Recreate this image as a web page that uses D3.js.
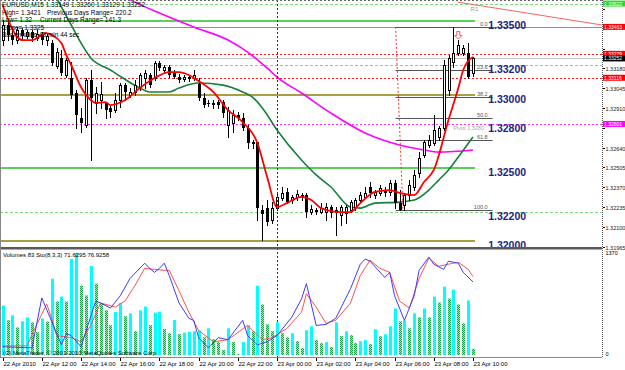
<!DOCTYPE html>
<html><head><meta charset="utf-8">
<script src="https://d3js.org/d3.v7.min.js"></script>
<style>
body{margin:0;background:#fff}
svg{display:block;font-family:"Liberation Sans",Arial,sans-serif}
</style>
</head><body>
<div id="chart"></div>
<script>
// EURUSD M15, 22 Apr 10:00 .. 23 Apr 10:00 (97 bars)
var opens = [1.33373,1.33476,1.33407,1.33373,1.33441,1.33400,1.33428,1.33387,1.33414,1.33373,
1.33353,1.33196,1.33250,1.33135,1.33114,1.33012,1.32841,1.32794,1.33100,1.32944,
1.32964,1.32944,1.32910,1.32896,1.32964,1.33066,1.32998,1.33019,1.33053,1.33114,
1.33135,1.33114,1.33216,1.33169,1.33189,1.33148,1.33121,1.33108,1.33121,1.33114,
1.33073,1.32978,1.32944,1.32937,1.32950,1.32950,1.32794,1.32807,1.32862,1.32841,
1.32773,1.32671,1.32678,1.32214,1.32227,1.32146,1.32227,1.32296,1.32337,1.32282,
1.32303,1.32316,1.32316,1.32200,1.32214,1.32200,1.32200,1.32234,1.32214,1.32180,
1.32193,1.32214,1.32234,1.32282,1.32303,1.32371,1.32316,1.32330,1.32350,1.32337,
1.32398,1.32261,1.32248,1.32316,1.32371,1.32466,1.32589,1.32657,1.32671,1.32712,
1.32773,1.33032,1.33223,1.33285,1.33285,1.33285,1.33149];
var highs = [1.33510,1.33496,1.33455,1.33462,1.33455,1.33441,1.33441,1.33441,1.33428,1.33421,
1.33373,1.33319,1.33305,1.33250,1.33223,1.33032,1.32910,1.33114,1.33169,1.33053,
1.33087,1.32950,1.32923,1.33012,1.33080,1.33080,1.33046,1.33100,1.33148,1.33169,
1.33148,1.33230,1.33230,1.33203,1.33203,1.33169,1.33141,1.33135,1.33135,1.33169,
1.33114,1.33012,1.32964,1.32964,1.32964,1.32964,1.32916,1.32896,1.32882,1.32875,
1.32794,1.32691,1.32678,1.32248,1.32282,1.32268,1.32337,1.32371,1.32364,1.32316,
1.32350,1.32330,1.32330,1.32248,1.32227,1.32261,1.32261,1.32248,1.32234,1.32248,
1.32248,1.32282,1.32296,1.32337,1.32371,1.32405,1.32350,1.32384,1.32371,1.32418,
1.32418,1.32350,1.32330,1.32418,1.32487,1.32609,1.32691,1.32725,1.32862,1.32787,
1.33237,1.33271,1.33463,1.33373,1.33339,1.33353,1.33260];
var lows = [1.33339,1.33373,1.33346,1.33353,1.33373,1.33387,1.33366,1.33373,1.33346,1.33339,
1.33203,1.33182,1.33135,1.33121,1.32978,1.32773,1.32746,1.32780,1.32555,1.32875,
1.32910,1.32841,1.32848,1.32882,1.32916,1.32964,1.32984,1.32998,1.33032,1.33046,
1.33053,1.33100,1.33169,1.33155,1.33121,1.33114,1.33087,1.33094,1.33094,1.33100,
1.32964,1.32916,1.32923,1.32910,1.32910,1.32848,1.32712,1.32746,1.32828,1.32760,
1.32637,1.32637,1.32146,1.32009,1.32112,1.32125,1.32214,1.32282,1.32261,1.32261,
1.32282,1.32282,1.32166,1.32187,1.32187,1.32193,1.32146,1.32166,1.32043,1.32112,
1.32125,1.32200,1.32214,1.32268,1.32296,1.32303,1.32296,1.32316,1.32309,1.32316,
1.32227,1.32214,1.32214,1.32282,1.32350,1.32439,1.32575,1.32643,1.32657,1.32691,
1.32760,1.32998,1.33189,1.33271,1.33271,1.33114,1.33129];
var closes = [1.33476,1.33407,1.33373,1.33441,1.33400,1.33428,1.33387,1.33414,1.33373,1.33400,
1.33216,1.33291,1.33148,1.33237,1.32998,1.32862,1.32807,1.33100,1.32978,1.33012,
1.33005,1.32896,1.32882,1.32964,1.33066,1.33019,1.33019,1.33066,1.33135,1.33148,
1.33066,1.33216,1.33182,1.33189,1.33135,1.33121,1.33100,1.33121,1.33108,1.33135,
1.32978,1.32930,1.32937,1.32944,1.32930,1.32875,1.32896,1.32862,1.32841,1.32773,
1.32671,1.32678,1.32227,1.32187,1.32132,1.32227,1.32303,1.32330,1.32268,1.32303,
1.32323,1.32303,1.32200,1.32220,1.32200,1.32227,1.32234,1.32193,1.32193,1.32234,
1.32234,1.32268,1.32282,1.32316,1.32330,1.32330,1.32337,1.32364,1.32330,1.32398,
1.32261,1.32214,1.32316,1.32384,1.32453,1.32568,1.32678,1.32691,1.32760,1.32773,
1.33203,1.33250,1.33285,1.33339,1.33319,1.33121,1.33252];
var volumes = [665,466,532,372,452,505,439,306,492,450,1024,718,785,718,1290,1370,
931,800,1197,958,700,600,400,580,700,520,560,320,600,650,400,570,580,350,290,470,280,300,310,320,330,
239,359,213,173,67,359,173,13,173,399,319,931,678,412,319,439,293,239,293,186,
93,333,386,200,160,173,106,439,253,319,266,160,186,200,146,346,253,279,386,625,
452,466,359,559,505,625,505,785,705,918,758,878,678,426,732,83];

// moving averages: [bar, price]
var emaRed = [[0,1.33612],[3,1.33394],[4,1.33373],[6,1.33373],[8,1.33407],[9,1.33421],[10,1.33407],
[12,1.33353],[13,1.33271],[14,1.33203],[16,1.33053],[18,1.32964],[19,1.32944],[21,1.32950],[22,1.32930],
[25,1.32964],[28,1.33046],[31,1.33114],[34,1.33155],[36,1.33155],[38,1.33135],[40,1.33094],[43,1.33019],
[46,1.32896],[49,1.32814],[52,1.32671],[54,1.32439],[56,1.32234],[58,1.32261],[61,1.32303],[63,1.32282],
[65,1.32227],[69,1.32200],[71,1.32200],[73,1.32261],[76,1.32337],[79,1.32350],[81,1.32330],[84,1.32316],
[86,1.32405],[88,1.32487],[91,1.32828],[93,1.33046],[94,1.33169],[95,1.33230],[96,1.33257]];
var maGreen = [[11,1.33660],[14,1.33476],[16,1.33353],[18,1.33250],[22,1.33169],[23,1.33148],[28,1.33046],
[30,1.33019],[34,1.33019],[36,1.33046],[40,1.33080],[45,1.33066],[49,1.33019],[51,1.32984],[53,1.32910],
[56,1.32760],[61,1.32555],[64,1.32453],[67,1.32371],[71,1.32234],[73,1.32227],[76,1.32261],[81,1.32268],
[84,1.32282],[87,1.32350],[89,1.32418],[91,1.32487],[93,1.32575],[96,1.32712]];
var maMagenta = [[25,1.33666],[27,1.33632],[32,1.33557],[39,1.33462],[46,1.33373],[50,1.33291],[54,1.33182],
[56,1.33121],[61,1.33012],[67,1.32875],[74,1.32739],[81,1.32657],[86,1.32623],[89,1.32609],[96,1.32623]];

// stochastic (8,3,3): [bar, value]
var stochMain = [[0,8],[6,7],[8,56],[12,10],[13,21],[14,19],[16,8],[19,53],[20,51],[22,46],[24,58],[26,75],
[29,90],[30,85],[31,81],[32,85],[33,90],[34,78],[36,51],[38,36],[39,34],[40,17],[42,7],[44,17],[46,15],
[49,34],[50,19],[52,10],[54,13],[56,19],[59,37],[61,55],[62,70],[64,29],[66,30],[68,36],[71,65],[73,89],
[74,94],[75,92],[78,76],[79,81],[80,58],[82,34],[84,58],[85,83],[87,96],[88,89],[90,84],[91,92],[93,90],
[94,81],[96,71.63]];
var stochSignal = [[0,9],[5,9],[6,20],[9,50],[10,36],[11,19],[14,17],[16,13],[18,29],[20,51],[23,47],[25,53],
[27,68],[29,85],[31,84],[33,83],[34,83],[36,63],[38,42],[40,24],[43,13],[46,15],[50,29],[53,15],[55,17],
[58,26],[61,42],[62,60],[64,47],[66,31],[68,34],[71,51],[73,78],[75,93],[77,85],[79,81],[81,53],[83,46],
[85,75],[87,95],[89,87],[91,89],[93,91],[95,84],[96,76.93]];

var timeTickBars = [0,8,16,24,32,40,48,56,64,72,80,88,96];
var timeTickLabels = ["22 Apr 2010","22 Apr 12:00","22 Apr 14:00","22 Apr 16:00","22 Apr 18:00","22 Apr 20:00",
"22 Apr 22:00","23 Apr 00:00","23 Apr 02:00","23 Apr 04:00","23 Apr 06:00","23 Apr 08:00","23 Apr 10:00"];
var daySeparatorBar = 56;

var priceTicks = [1.33585,1.33450,1.33315,1.33180,1.33045,1.32910,1.32775,1.32640,1.32505,1.32370,1.32235,1.32100,1.31965];
var redLevels = [1.33463,1.33279,1.33116];
var greenDotLevels = [1.33622,1.33200,1.32200];
var pivotLevel = 1.32801;
var bidPrice = 1.33252;
var roundLines = [1.33500,1.33000,1.32500,1.32000];
var roundLabels = [1.33500,1.33200,1.33000,1.32800,1.32500,1.32200,1.32000];
var fibRatios = [0,23.6,38.2,50,61.8,100];
var fibHigh = 1.33463, fibLow = 1.32214;
var fibBars = [80.2,81.7,100];
var trendBars = [92.9,122.3], trendPrices = [1.33632,1.33476];
var arrowBars = [93], arrowPrices = [1.33404];

var infoLeft = ["EURUSD,M15  1.33149 1.33260 1.33129 1.33252","High= 1.3421","Low= 1.32","Close= 1.3325","Bar remains 43 min 44 sec"];
var infoRight = ["","Previous Days Range= 220.2","Current Days Range= 141.3","",""];

// ---------------------------------------------------------
var width = 625, height = 370;
var svg = d3.select("#chart").append("svg").attr("width", width).attr("height", height);
var defs = svg.append("defs");
defs.append("clipPath").attr("id","clipMain").append("rect").attr("x",0).attr("y",0).attr("width",602).attr("height",247);
defs.append("clipPath").attr("id","clipSub").append("rect").attr("x",0).attr("y",250).attr("width",602).attr("height",107);
var pat = defs.append("pattern").attr("id","hatch").attr("width",2).attr("height",2).attr("patternUnits","userSpaceOnUse");
pat.append("rect").attr("width",2).attr("height",2).attr("fill","#8cf5a8");
pat.append("rect").attr("width",1).attr("height",1).attr("fill","#12a040");
pat.append("rect").attr("x",1).attr("y",1).attr("width",1).attr("height",1).attr("fill","#12a040");

var xB = d3.scaleLinear().domain([0,96]).range([2.6,473]);
var yP = d3.scaleLinear().domain([1.31965,1.33585]).range([246.5,9]);
var yV = d3.scaleLinear().domain([0,1370]).range([355,253]);
var yS = d3.scaleLinear().domain([0,100]).range([355,253]);
var px = function(i){ return Math.round(xB(i)); };

var main = svg.append("g").attr("clip-path","url(#clipMain)");

// horizontal levels
function hline(g, p, color, w, dash, x2){
  var y = Math.round(yP(p)) + (w % 2 ? 0.5 : 0);
  g.append("line").attr("x1",0).attr("x2",x2 || 602).attr("y1",y).attr("y2",y)
    .attr("stroke",color).attr("stroke-width",w).attr("stroke-dasharray",dash || null);
}
greenDotLevels.forEach(function(p){ hline(main,p,"#7bd87b",1,"3,2"); });
roundLines.forEach(function(p,k){ hline(main,p,k%2 ? "#a8a040" : "#5ccf5c",2,null,xB(96)+2); });
hline(main,redLevels[0],"#ff6060",1);
redLevels.slice(1).forEach(function(p){ hline(main,p,"#ff2020",1,"2,2"); });
hline(main,bidPrice,"#c8c8c8",1);
hline(main,pivotLevel,"#ff33ff",1,"2,2");

// fibonacci
var fibG = main.append("g");
fibRatios.forEach(function(r){
  var p = fibHigh - (fibHigh - fibLow) * r / 100;
  var y = Math.round(yP(p)) + 0.5;
  fibG.append("line").attr("x1",xB(fibBars[0])).attr("x2",xB(fibBars[2])).attr("y1",y).attr("y2",y)
    .attr("stroke","#555").attr("stroke-width",1);
  fibG.append("text").attr("x",xB(fibBars[2]) - 5).attr("y",y - 1.5).attr("text-anchor","end")
    .attr("font-size","5.5px").attr("fill","#555").text(r.toFixed(1));
});
fibG.append("line").attr("x1",xB(fibBars[0])).attr("y1",yP(fibHigh)).attr("x2",xB(fibBars[1])).attr("y2",yP(fibLow))
  .attr("stroke","#ff3030").attr("stroke-dasharray","2,2");

// trend line to R1
main.append("line").attr("x1",xB(trendBars[0])).attr("y1",yP(trendPrices[0])).attr("x2",xB(trendBars[1])).attr("y2",yP(trendPrices[1]))
  .attr("stroke","#ff6060");
main.append("text").attr("x",xB(95.5)).attr("y",yP(greenDotLevels[0]) + 7).attr("font-size","6px").attr("fill","#999").text("R1");
main.append("text").attr("x",xB(92)).attr("y",yP(pivotLevel) + 6).attr("font-size","5.5px").attr("fill","#aaa").text("Pivot  1.3280");

// day separator
svg.append("line").attr("x1",px(daySeparatorBar)+0.5).attr("x2",px(daySeparatorBar)+0.5).attr("y1",0).attr("y2",357)
  .attr("stroke","#333").attr("stroke-dasharray","2,2");

// moving averages
var maLine = d3.line().x(function(d){return xB(d[0]);}).y(function(d){return yP(d[1]);}).curve(d3.curveMonotoneX);
main.append("path").attr("d",maLine(maMagenta)).attr("fill","none").attr("stroke","#ff00ff").attr("stroke-width",1.6);
main.append("path").attr("d",maLine(maGreen)).attr("fill","none").attr("stroke","#17803a").attr("stroke-width",1.6);

// candles
var bars = opens.map(function(o,i){ return {i:i,o:o,h:highs[i],l:lows[i],c:closes[i]}; });
var cg = main.append("g");
cg.selectAll("line.wick").data(bars).join("line").attr("class","wick")
  .attr("x1",function(d){return px(d.i)+0.5;}).attr("x2",function(d){return px(d.i)+0.5;})
  .attr("y1",function(d){return Math.round(yP(d.h));}).attr("y2",function(d){return Math.round(yP(d.l))+1;})
  .attr("stroke","#000");
cg.selectAll("rect.body").data(bars).join("rect").attr("class","body")
  .attr("x",function(d){return d.c >= d.o ? px(d.i)-0.5 : px(d.i)-1;})
  .attr("y",function(d){return Math.round(yP(Math.max(d.o,d.c))) + (d.c >= d.o ? 0.5 : 0);})
  .attr("width",function(d){return d.c >= d.o ? 2 : 3;})
  .attr("height",function(d){return Math.max(1, Math.round(yP(Math.min(d.o,d.c))) - Math.round(yP(Math.max(d.o,d.c))));})
  .attr("fill",function(d){return d.c >= d.o ? "#fff" : "#000";})
  .attr("stroke",function(d){return d.c >= d.o ? "#000" : "none";});

main.append("path").attr("d",maLine(emaRed)).attr("fill","none").attr("stroke","#ff0000").attr("stroke-width",1.8);

// fractal arrow
arrowBars.forEach(function(b,k){
  var x = xB(b), y = yP(arrowPrices[k]);
  main.append("path").attr("d","M"+(x-1.5)+","+(y-4)+"h3v4h2l-3.5,3.5l-3.5,-3.5h2z")
    .attr("fill","#fff").attr("stroke","#ff3030").attr("stroke-width",0.8);
});

// round number labels
main.selectAll("text.round").data(roundLabels).join("text").attr("class","round")
  .attr("x",xB(99.1)).attr("y",function(d){return yP(d)+8;})
  .attr("font-size","10.5px").attr("font-weight","bold").attr("fill","#23237d")
  .text(function(d){return d.toFixed(5);});

// info text
var infoRightX = [0,47,40];
var info = svg.append("g").attr("font-size","6.5px").attr("fill","#000");
infoLeft.forEach(function(t,k){ info.append("text").attr("x",2).attr("y",7+k*7.5).text(t); });
infoRight.forEach(function(t,k){ if(t) info.append("text").attr("x",infoRightX[k]).attr("y",7+k*7.5).text(t); });

// --- sub window ---
var sub = svg.append("g").attr("clip-path","url(#clipSub)");
sub.selectAll("rect.vol").data(volumes).join("rect").attr("class","vol")
  .attr("x",function(d,i){return px(i)-1;}).attr("width",3)
  .attr("y",function(d){return yV(d);}).attr("height",function(d){return yV(0)-yV(d);})
  .attr("fill",function(d,i){return (i===0 || d > volumes[i-1]) ? "#00ffff" : "url(#hatch)";});
var stLine = d3.line().x(function(d){return xB(d[0]);}).y(function(d){return yS(d[1]);});
sub.append("path").attr("d",stLine(stochSignal)).attr("fill","none").attr("stroke","#ff5050").attr("stroke-width",1);
sub.append("path").attr("d",stLine(stochMain)).attr("fill","none").attr("stroke","#3c3cff").attr("stroke-width",1);
svg.append("text").attr("x",3).attr("y",257).attr("font-size","6px").text("Volumes 83  Sto(8,3,3) 71.6295 76.9258");
svg.append("text").attr("x",3).attr("y",355).attr("font-size","6px").text("(C) MetaTrader, \u00a9 2001-2010 MetaQuotes Software Corp.");

// frames / separators
svg.append("rect").attr("x",0).attr("y",247).attr("width",602).attr("height",2.5).attr("fill","#5a5a5a");
svg.append("line").attr("x1",0).attr("x2",602).attr("y1",357.5).attr("y2",357.5).attr("stroke","#888");
svg.append("line").attr("x1",0).attr("x2",602).attr("y1",0.5).attr("y2",0.5).attr("stroke","#666").attr("stroke-dasharray","2,2");
svg.append("line").attr("x1",0.5).attr("x2",0.5).attr("y1",0).attr("y2",357).attr("stroke","#888");
svg.append("line").attr("x1",602.5).attr("x2",602.5).attr("y1",0).attr("y2",358).attr("stroke","#555").attr("stroke-dasharray","1,1");

// price axis
var boxes = [[greenDotLevels[0],"#2ed82e"],[redLevels[0],"#ff0000"],[redLevels[1],"#ff0000"],[bidPrice,"#000"],[redLevels[2],"#ff0000"],[pivotLevel,"#ff00ff"]];
var ax = svg.append("g").attr("font-size","5.5px");
priceTicks.forEach(function(p){
  var y = Math.round(yP(p))+0.5;
  ax.append("line").attr("x1",603).attr("x2",605).attr("y1",y).attr("y2",y).attr("stroke","#000");
  var hidden = boxes.some(function(b){ return Math.abs(yP(b[0]) - y) < 7; });
  if (!hidden) ax.append("text").attr("x",605.5).attr("y",y+2).attr("fill","#222").text(p.toFixed(5));
});
boxes.forEach(function(b,k){
  // the bid box sits just under the red box right above it
  var y = yP(b[0]) + (k === 3 ? 0.6 : 0);
  ax.append("rect").attr("x",603).attr("y",y-3).attr("width",22).attr("height",6).attr("fill",b[1]);
  ax.append("text").attr("x",604).attr("y",y+2).attr("fill","#fff").attr("font-size","5px").text(b[0].toFixed(5));
});
ax.append("text").attr("x",605.5).attr("y",yV(1370)+2).text("1370");
ax.append("text").attr("x",605.5).attr("y",yV(0)+1).text("0");

// time axis
var tx = svg.append("g").attr("font-size","6px");
timeTickBars.forEach(function(b,k){
  var x = px(b)+0.5;
  tx.append("line").attr("x1",x).attr("x2",x).attr("y1",358).attr("y2",361).attr("stroke","#000");
  tx.append("text").attr("x",x).attr("y",366).text(timeTickLabels[k]);
});
</script>
</body></html>
